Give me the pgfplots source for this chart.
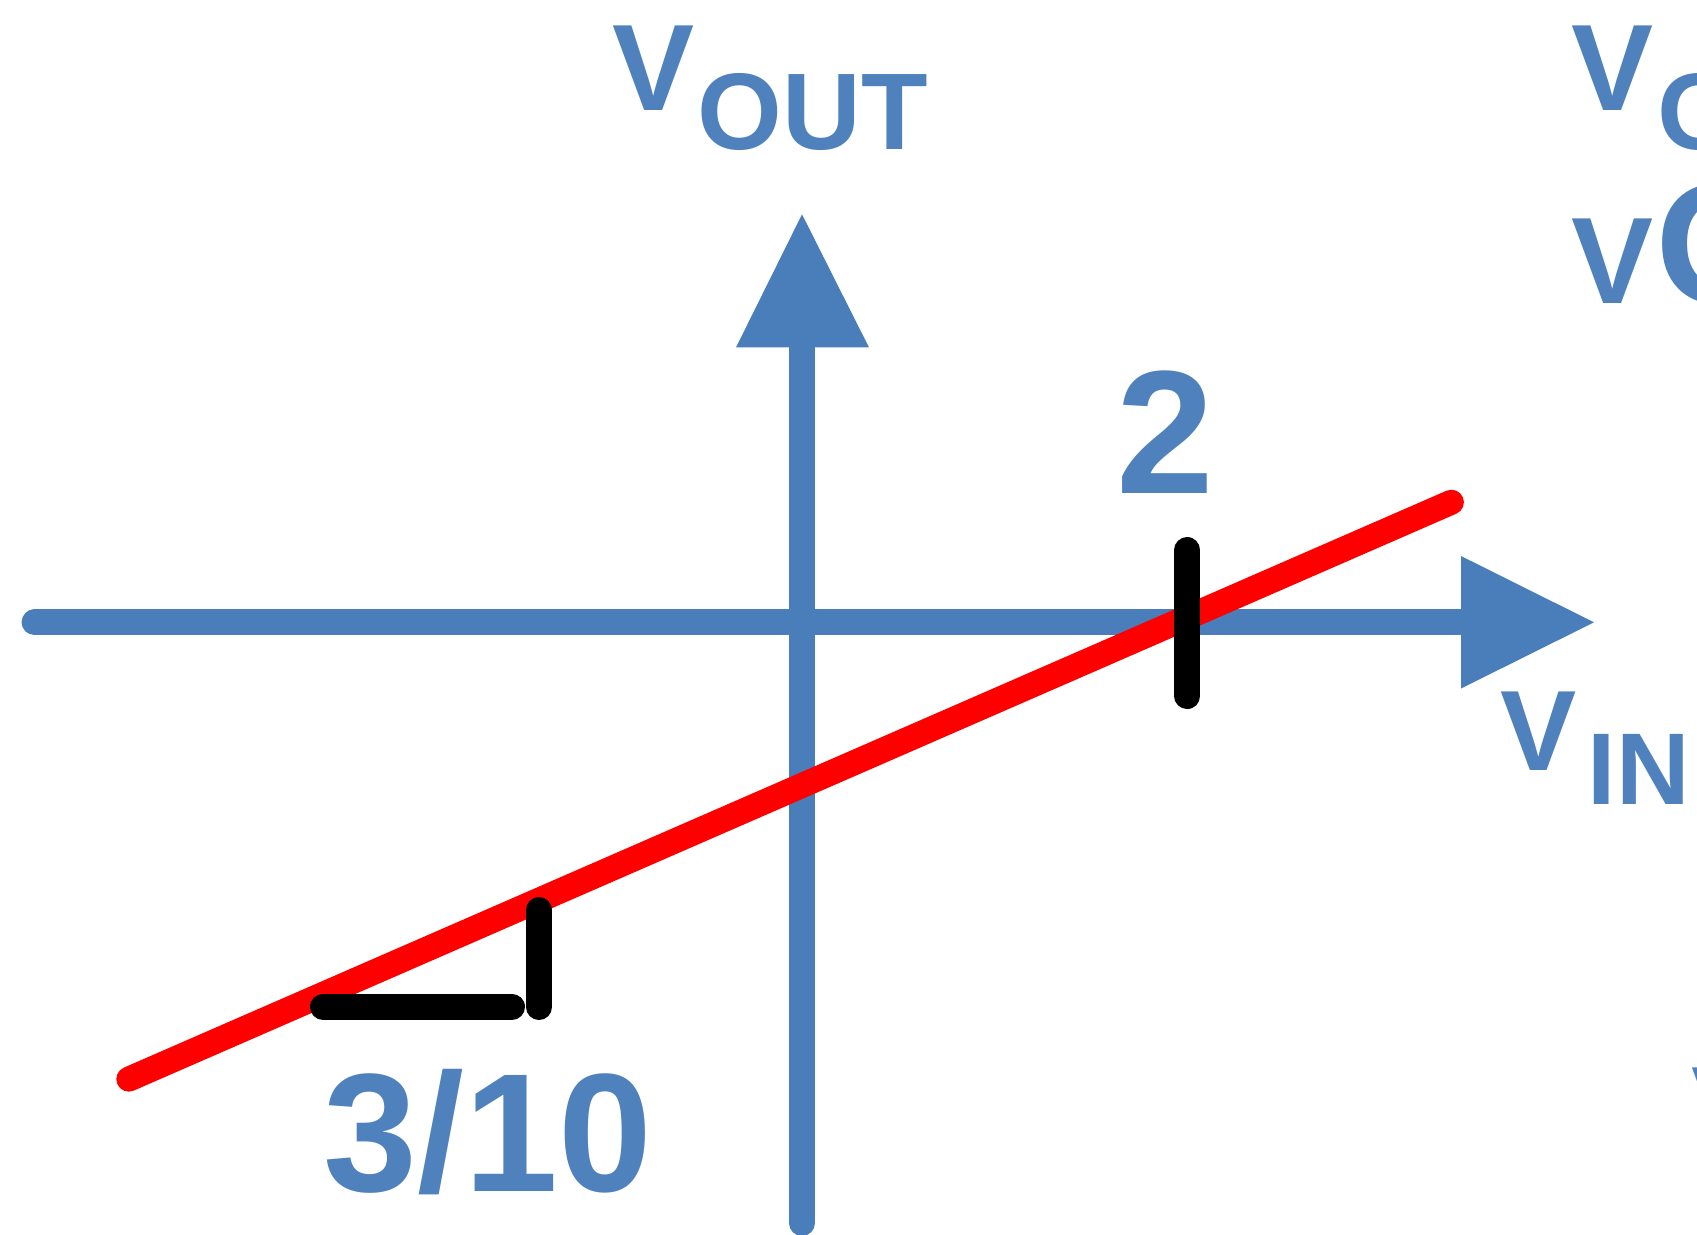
\documentclass[border=0pt]{standalone}
\usepackage{fontspec}
\setmainfont{Liberation Sans}
\usepackage{pgfplots}
\pgfplotsset{compat=1.18}
\definecolor{axblue}{HTML}{4A7EBB}
\definecolor{txtblue}{HTML}{4F81BD}
\newcommand{\fs}[1]{\fontsize{#1}{#1}\selectfont\bfseries}
\begin{document}
\begin{tikzpicture}
\begin{axis}[scale only axis, width=16.97cm, height=12.34cm,
  xmin=0, xmax=1697, ymin=0, ymax=1234, y dir=reverse,
  axis lines=none, clip=true]
% horizontal axis with arrow
\addplot[axblue, line width=0.26cm, line cap=round] coordinates {(34.6,622.3) (1462,622.3)};
\addplot[fill=axblue, draw=none] coordinates {(1461,556) (1594,622.3) (1461,688.5)};
% vertical axis with arrow
\addplot[axblue, line width=0.26cm, line cap=round] coordinates {(802,1223) (802,346)};
\addplot[fill=axblue, draw=none] coordinates {(736,347.4) (802,214.3) (869,347.4)};
% red transfer line
\addplot[red, line width=0.25cm, line cap=round] coordinates {(128.8,1079.1) (1451.4,502.2)};
% black marks
\addplot[black, line width=0.26cm, line cap=round] coordinates {(1187.3,550) (1187.3,696)};
\addplot[black, line width=0.26cm, line cap=round] coordinates {(323,1006.7) (512,1006.7)};
\addplot[black, line width=0.26cm, line cap=round] coordinates {(539,910) (539,1007)};
% labels
\node[anchor=base west, inner sep=0, text=txtblue, font=\fs{35}] at (axis cs:612,110.4) {V};
\node[anchor=base west, inner sep=0, text=txtblue, font=\fs{31}] at (axis cs:697,149.4) {OUT};
\node[anchor=base west, inner sep=0, text=txtblue, font=\fs{35}] at (axis cs:1571,110.4) {V};
\node[anchor=base west, inner sep=0, text=txtblue, font=\fs{31}] at (axis cs:1657,149.4) {OUT};
\node[anchor=base west, inner sep=0, text=txtblue, font=\fs{35}] at (axis cs:1571,303) {V};
\node[anchor=base west, inner sep=0, text=txtblue, font=\fs{49}] at (axis cs:1655,303) {O};
\node[anchor=base west, inner sep=0, text=txtblue, font=\fs{50}] at (axis cs:1116,493.5) {2};
\node[anchor=base west, inner sep=0, text=txtblue, font=\fs{48}] at (axis cs:323,1191.5) {3/10};
\node[anchor=base west, inner sep=0, text=txtblue, font=\fs{32.5}] at (axis cs:1500,770) {V};
\node[anchor=base west, inner sep=0, text=txtblue, font=\fs{29}] at (axis cs:1587,804) {IN};
\node[anchor=base west, inner sep=0, text=txtblue, font=\fs{35}] at (axis cs:1691,1152) {V};
\end{axis}
\pgfresetboundingbox
\useasboundingbox (current axis.south west) rectangle (current axis.north east);
\end{tikzpicture}
\end{document}
